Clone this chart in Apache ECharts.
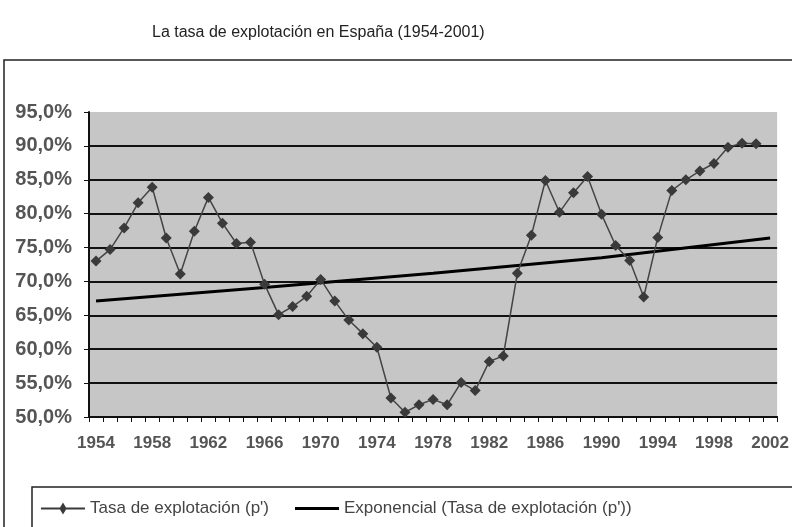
<!DOCTYPE html>
<html>
<head>
<meta charset="utf-8">
<script src="https://cdn.jsdelivr.net/npm/echarts@6/dist/echarts.min.js"></script>
<style>
  html, body { margin: 0; padding: 0; background: #fff; }
  #chart { width: 792px; height: 527px; }
</style>
</head>
<body>
<div id="chart"></div>
<script>
// años (categorías del eje X)
var years = ['1954','1955','1956','1957','1958','1959','1960','1961','1962','1963',
  '1964','1965','1966','1967','1968','1969','1970','1971','1972','1973',
  '1974','1975','1976','1977','1978','1979','1980','1981','1982','1983',
  '1984','1985','1986','1987','1988','1989','1990','1991','1992','1993',
  '1994','1995','1996','1997','1998','1999','2000','2001','2002'];

// Tasa de explotación (p') en %, 1954-2001
var tasa = [73.0, 74.7, 77.9, 81.6, 83.9, 76.4, 71.1, 77.4, 82.4, 78.6,
  75.6, 75.8, 69.6, 65.1, 66.3, 67.8, 70.3, 67.1, 64.3, 62.3,
  60.3, 52.8, 50.7, 51.8, 52.6, 51.8, 55.1, 53.9, 58.2, 59.0,
  71.2, 76.8, 84.9, 80.2, 83.1, 85.5, 79.9, 75.3, 73.1, 67.7,
  76.5, 83.4, 85.0, 86.3, 87.4, 89.8, 90.4, 90.3];

// línea de tendencia exponencial
var trendYears = ['1954', '1966', '1978', '1990', '2002'];
var trendValues = [67.1, 69.1, 71.2, 73.5, 76.4];

var serieTasa = 'Tasa de explotación (p\')';
var serieTrend = 'Exponencial (Tasa de explotación (p\'))';

var chart = echarts.init(document.getElementById('chart'));

// colores de las líneas de la cuadrícula (la de 95% no se ve)
var gridColors = ['#111', '#111', '#111', '#111', '#111', '#111', '#111', '#111', '#111', 'rgba(0,0,0,0)'];

var option = {
  backgroundColor: '#fff',
  animation: false,
  textStyle: { fontFamily: 'Liberation Sans, Arial, sans-serif' },
  title: {
    text: 'La tasa de explotación en España (1954-2001)',
    left: 147,
    top: 20,
    textStyle: { fontSize: 16, fontWeight: 'normal', color: '#222' }
  },
  graphic: [
    {
      // marco exterior del gráfico
      type: 'rect',
      shape: { x: 4, y: 60, width: 800, height: 480 },
      style: { fill: 'none', stroke: '#222', lineWidth: 1.5 },
      silent: true
    },
    {
      // recuadro de la leyenda
      type: 'rect',
      shape: { x: 32, y: 487, width: 780, height: 60 },
      style: { fill: 'none', stroke: '#222', lineWidth: 1.5 },
      silent: true
    }
  ],
  legend: {
    left: 36,
    top: 495,
    itemGap: 26,
    itemWidth: 44,
    itemHeight: 12,
    textStyle: { fontSize: 17, color: '#444' },
    data: [
      { name: serieTasa, icon: 'path://M0,5 L19,5 L22,0 L25,5 L44,5 L44,7 L25,7 L22,12 L19,7 L0,7 Z' },
      { name: serieTrend, icon: 'path://M0,5 L44,5 L44,8 L0,8 Z', itemStyle: { color: '#000' } }
    ]
  },
  grid: {
    left: 89,
    top: 112,
    width: 689,
    height: 305,
    show: true,
    backgroundColor: '#c6c6c6',
    borderWidth: 0
  },
  xAxis: {
    type: 'category',
    data: years,
    boundaryGap: true,
    axisLine: { lineStyle: { color: '#111', width: 2 } },
    axisTick: { show: true, interval: 0, length: 5, lineStyle: { color: '#111' } },
    axisLabel: {
      interval: 3,
      margin: 18,
      fontSize: 17,
      fontWeight: 'bold',
      color: '#555'
    },
    splitLine: { show: false }
  },
  yAxis: {
    type: 'value',
    min: 50,
    max: 95,
    interval: 5,
    axisLine: { show: true, lineStyle: { color: '#111', width: 2 } },
    axisTick: { show: true, length: 5, lineStyle: { color: '#111' } },
    axisLabel: {
      margin: 17,
      fontSize: 20,
      fontWeight: 'bold',
      color: '#555',
      formatter: function (v) { return v.toFixed(1).replace('.', ',') + '%'; }
    },
    splitLine: { show: true, lineStyle: { color: gridColors, width: 2 } }
  },
  series: [
    {
      name: serieTasa,
      type: 'line',
      data: tasa,
      symbol: 'diamond',
      symbolSize: 11,
      showAllSymbol: true,
      itemStyle: { color: '#3a3a3a' },
      lineStyle: { color: '#444', width: 1.5 },
      z: 3
    },
    {
      name: serieTrend,
      type: 'line',
      data: trendYears.map(function (y, i) { return [y, trendValues[i]]; }),
      showSymbol: false,
      symbol: 'none',
      itemStyle: { color: '#000' },
      lineStyle: { color: '#000', width: 3 },
      z: 2
    }
  ]
};

chart.setOption(option);
</script>
</body>
</html>
